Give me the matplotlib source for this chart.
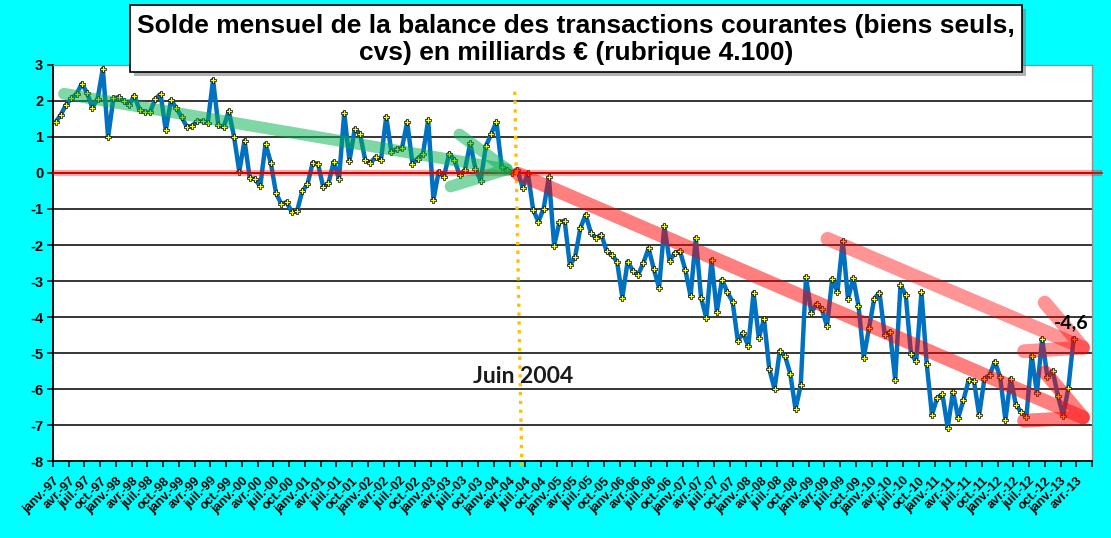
import numpy as np
import matplotlib
matplotlib.use("Agg")
import matplotlib.pyplot as plt
from matplotlib.patches import FancyArrowPatch, Rectangle

# monthly balance, janv-97 .. mars-13 (billions EUR)
solde = [
    1.41, 1.62, 1.90, 2.07, 2.20, 2.48, 2.22, 1.81, 2.06, 2.90, 0.99, 2.07,
    2.11, 2.00, 1.89, 2.15, 1.75, 1.69, 1.69, 2.06, 2.19, 1.19, 2.03, 1.80,
    1.56, 1.28, 1.31, 1.44, 1.44, 1.40, 2.59, 1.33, 1.27, 1.72,
    1.01, 0.04, 0.90, -0.14, -0.17, -0.37, 0.81, 0.29, -0.56, -0.86, -0.81, -1.08,
    -1.06, -0.51, -0.31, 0.29, 0.25, -0.39, -0.28, 0.31, -0.17, 1.67, 0.34, 1.22,
    1.09, 0.36, 0.29, 0.44, 0.36, 1.56,
    0.58, 0.67, 0.69, 1.42, 0.26, 0.40, 0.53, 1.47, -0.75, 0.04, -0.11, 0.54,
    0.36, -0.06, 0.08, 0.83, 0.12, -0.21, 0.75, 1.08, 1.42, 0.17, 0.09, 0.01,
    0.09, -0.41, 0.00, -1.02, -1.35, -0.99, -0.11, -2.02,
    -1.37, -1.32, -2.56, -2.33, -1.53, -1.16, -1.66, -1.81, -1.71, -2.17, -2.28, -2.46,
    -3.46, -2.46, -2.71, -2.83, -2.50, -2.09, -2.67, -3.19, -1.47, -2.44, -2.22, -2.18,
    -2.69, -3.42, -1.81, -3.46, -4.03, -2.42, -3.85, -2.96, -3.31, -3.57, -4.66,
    -4.44, -4.81, -3.32, -4.58, -4.06, -5.44, -6.00, -4.94, -5.08, -5.58, -6.56, -5.89,
    -2.89, -3.88, -3.64, -3.78, -4.25, -2.94, -3.30, -1.89, -3.50, -2.92, -3.69, -5.13,
    -4.31, -3.49, -3.32, -4.49, -4.41, -5.75, -3.11, -3.39, -5.02,
    -5.23, -3.31, -5.30, -6.72, -6.24, -6.15, -7.08, -6.08, -6.80, -6.31, -5.75, -5.77,
    -6.72, -5.71, -5.61, -5.24, -5.67, -6.86, -5.71, -6.44, -6.64, -6.77, -5.07, -6.11,
    -4.60, -5.67, -5.49, -6.19, -6.74, -5.96, -4.60,
]
mois = ["janv.", "avr.", "juil.", "oct."]
annees = ["97", "98", "99", "00", "01", "02", "03", "04", "05", "06", "07", "08",
          "09", "10", "11", "12", "13"]
tick_labels = [f"{m}-{a}" for a in annees for m in mois][:66]
y_ticks = [3, 2, 1, 0, -1, -2, -3, -4, -5, -6, -7, -8]
titre = ("Solde mensuel de la balance des transactions courantes (biens seuls,\n"
         "cvs) en milliards \u20ac (rubrique 4.100)")

fig = plt.figure(figsize=(11.11, 5.38), dpi=100)
fig.patch.set_facecolor("#00FFFF")
ax = fig.add_axes([0.0477, 0.1431, 0.9352, 0.7361])
ax.set_facecolor("white")

x = np.arange(len(solde)) + 0.5
ax.set_xlim(0, 198)
ax.set_ylim(-8, 3)

# grid
for v in y_ticks[1:-1]:
    ax.axhline(v, color="black", lw=1.1, zorder=1)

ax.plot(x, solde, color="#0070C0", lw=3.2, zorder=3, solid_joinstyle="round")
ax.plot(x, solde, ls="none", marker="P", ms=4.3, mfc="#FFFF00", mec="black",
        mew=0.5, zorder=4)

# zero line
ax.plot([0, 200], [0, 0], color="red", lw=4.5, alpha=0.35, zorder=5,
        clip_on=False, solid_capstyle="butt")
ax.plot([0, 200], [0, 0], color="#D00000", lw=1.2, zorder=5, clip_on=False)

# juin 2004 marker
ax.plot([88.0, 89.35], [2.26, -8.25], color="#FFC000", lw=2.4, ls=":",
        zorder=6, clip_on=False)
ax.text(89.5, -5.66, "Juin 2004", fontsize=16.5, fontweight="bold",
        family="Lato", color="#1a1a1a", ha="center", va="center", zorder=7)

# trend arrows
arrows = [
    ((2.1, 2.2), (89.0, 0.04), (0.0, 0.69, 0.31, 0.5), 8.5),
    ((88.6, -0.02), (199.0, -6.96), (1.0, 0.0, 0.0, 0.5), 10.0),
    ((147.6, -1.83), (199.0, -5.02), (1.0, 0.0, 0.0, 0.42), 10.0),
]
for a, b, col, lw in arrows:
    arr = FancyArrowPatch(a, b, arrowstyle="->,head_length=3.8,head_width=1.9",
                          mutation_scale=10, color=col, lw=lw, shrinkA=0,
                          shrinkB=0, capstyle="round", joinstyle="round",
                          zorder=8, clip_on=False)
    ax.add_patch(arr)

ax.annotate("-4,6", (x[-1], solde[-1]), xytext=(-2, 5), textcoords="offset points",
            fontsize=14, fontweight="bold", family="Lato", color="black",
            ha="center", va="bottom", zorder=9)

# axes styling
ax.set_yticks(y_ticks)
ax.set_yticklabels([str(v) for v in y_ticks], fontsize=10.5, fontweight="bold",
                   family="Liberation Sans")
ax.set_xticks(np.arange(0, 199, 3))
ax.set_xticklabels(tick_labels + [""], rotation=45, ha="right", va="top",
                   rotation_mode="anchor", fontsize=9, fontweight="bold",
                   family="Liberation Sans")
ax.tick_params(axis="both", direction="out", length=4, width=1.1, pad=3,
               colors="black")
ax.tick_params(axis="x", pad=6)
for s in ["left", "bottom"]:
    ax.spines[s].set_linewidth(1.3)
    ax.spines[s].set_color("black")
for s in ["top", "right"]:
    ax.spines[s].set_linewidth(1.0)
    ax.spines[s].set_color("#909090")

# title box with shadow
x0, y0, w, h = 130 / 1111, 1 - 72 / 538, 892 / 1111, 67 / 538
fig.patches.append(Rectangle((x0 + 4 / 1111, y0 - 4 / 538), w, h,
                             transform=fig.transFigure, facecolor="#7f7f7f",
                             alpha=0.6, edgecolor="none", zorder=10))
fig.patches.append(Rectangle((x0, y0), w, h, transform=fig.transFigure,
                             facecolor="white", edgecolor="black", lw=1.2,
                             zorder=11))
fig.text(x0 + w / 2, y0 + h / 2 - 1 / 538, titre, ha="center", va="center",
         fontsize=19, fontweight="bold", family="Liberation Sans",
         linespacing=1.12, zorder=12)

fig.savefig("out.png", dpi=100, facecolor=fig.get_facecolor())
